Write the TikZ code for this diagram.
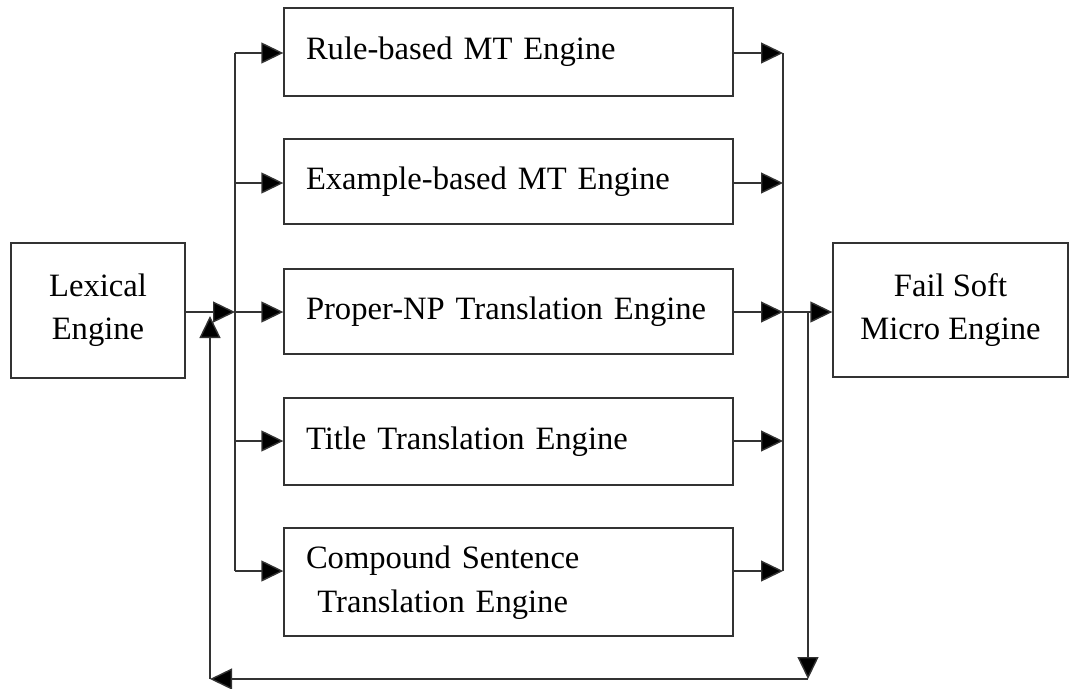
\documentclass[tikz,border=0pt]{standalone}
\usepackage{fontspec}
\setmainfont{Liberation Serif}
\usetikzlibrary{arrows.meta}
\begin{document}
\begin{tikzpicture}[x=1pt,y=-1pt,
  line/.style={line width=1.4pt,draw=black!80},
  arr/.style={line,-{Triangle[length=22pt,width=21pt,fill=black]}},
  engbox/.style={line,rectangle,inner xsep=22pt,inner ysep=0pt,text width=405pt,align=left,
     font=\fontsize{32.6}{44}\selectfont},
  sidebox/.style={line,rectangle,inner sep=0pt,align=center,font=\fontsize{32.6}{43}\selectfont}
]
\useasboundingbox (0,0) rectangle (1075,688);
% side boxes
\node[sidebox,minimum width=174pt,minimum height=135pt] (lex) at (98,310.5) {Lexical\\Engine};
\node[sidebox,minimum width=235pt,minimum height=134pt] (fs) at (950.5,310) {Fail Soft\\Micro Engine};
% engine boxes
\node[engbox,minimum height=88pt] (b1) at (508.5,52) {Rule-based MT Engine};
\node[engbox,minimum height=85pt] (b2) at (508.5,181.5) {Example-based MT Engine};
\node[engbox,minimum height=85pt] (b3) at (508.5,311.5) {Proper-NP Translation Engine};
\node[engbox,minimum height=87pt] (b4) at (508.5,441.5) {Title Translation Engine};
\node[engbox,minimum height=108pt] (b5) at (508.5,582) {\begin{tabular}{@{}c@{}}Compound Sentence\\Translation Engine\end{tabular}};
% bus coordinates
\coordinate (l1) at (235,53);
\coordinate (l2) at (235,183);
\coordinate (l3) at (235,312);
\coordinate (l4) at (235,441);
\coordinate (l5) at (235,571);
\coordinate (r1) at (783,53);
\coordinate (r2) at (783,183);
\coordinate (r3) at (783,312);
\coordinate (r4) at (783,441);
\coordinate (r5) at (783,571);
\coordinate (d1) at (808,312);
\coordinate (d2) at (808,679);
\coordinate (d3) at (210,679);
\coordinate (d4) at (210,316);
% buses
\draw[line] (l1) -- (l5);
\draw[line] (r1) -- (r5);
% inputs
\draw[arr] (lex.east |- l3) -- (l3);
\foreach \i in {1,...,5} {
  \draw[arr] (l\i) -- (b\i.west |- l\i);
  \draw[arr] (b\i.east |- r\i) -- (r\i);
}
\draw[arr] (r3) -- (fs.west |- r3);
% feedback loop
\draw[arr] (d1) -- (d2);
\draw[arr] (d2) -- (d3);
\draw[arr] (d3) -- (d4);
\end{tikzpicture}
\end{document}
